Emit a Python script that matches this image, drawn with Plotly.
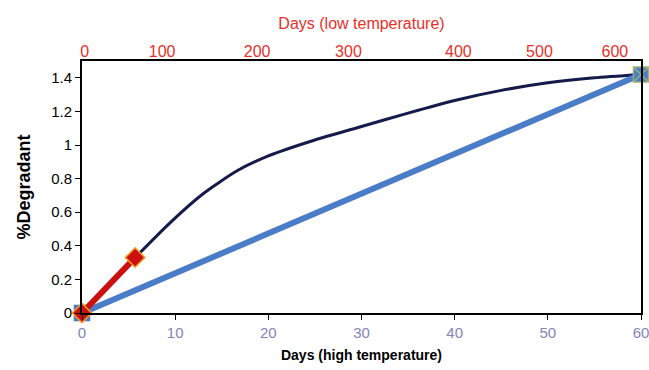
import plotly.graph_objects as go

# Data
curve_x = [5.7, 9.5, 13.0, 16.6, 20.0, 25.0, 30.0, 35.0, 40.0, 45.0, 50.0, 55.0, 60.0]
curve_y = [0.33, 0.54, 0.71, 0.845, 0.935, 1.03, 1.11, 1.19, 1.265, 1.325, 1.37, 1.4, 1.42]

red_x = [0, 5.7]
red_y = [0, 0.33]

blue_x = [0, 60]
blue_y = [0, 1.42]

bottom_ticks = [0, 10, 20, 30, 40, 50, 60]
y_ticks = [0, 0.2, 0.4, 0.6, 0.8, 1.0, 1.2, 1.4]
y_tick_text = ["0", "0.2", "0.4", "0.6", "0.8", "1", "1.2", "1.4"]

top_tick_text = ["0", "100", "200", "300", "400", "500", "600"]
top_tick_pos = [0.3, 8.6, 18.8, 28.6, 40.4, 49.1, 57.2]  # in high-temperature-day units

FONT = "Liberation Sans, Arial, sans-serif"

fig = go.Figure()

fig.add_trace(go.Scatter(
    x=curve_x, y=curve_y, mode="lines",
    line=dict(color="#141a4a", width=3, shape="spline", smoothing=0.6),
    showlegend=False, hoverinfo="skip"))

fig.add_trace(go.Scatter(
    x=blue_x, y=blue_y, mode="lines+markers", cliponaxis=False,
    line=dict(color="#4a7cc8", width=6),
    marker=dict(symbol=["square", "square-x"], size=15, color="#4a7cc8",
                line=dict(color=["#4a7cc8", "#9ab078"], width=1.5)),
    showlegend=False, hoverinfo="skip"))

fig.add_trace(go.Scatter(
    x=red_x, y=red_y, mode="lines+markers", cliponaxis=False,
    line=dict(color="#cc1010", width=6),
    marker=dict(symbol="diamond", size=15, color="#cc1010",
                line=dict(color="#f0a020", width=1.5)),
    showlegend=False, hoverinfo="skip"))

# invisible trace to activate the top axis
fig.add_trace(go.Scatter(x=[0, 60], y=[0, 0], xaxis="x2", mode="markers",
                         marker=dict(opacity=0), showlegend=False, hoverinfo="skip"))

fig.update_layout(
    width=649, height=370,
    margin=dict(l=82, r=8, t=61, b=57),
    paper_bgcolor="white", plot_bgcolor="white",
    font=dict(family=FONT),
    xaxis=dict(
        range=[0, 60], tickvals=bottom_ticks, showgrid=False, zeroline=False,
        showline=True, linecolor="black", linewidth=2, mirror=True,
        ticks="outside", ticklen=5, tickcolor="black", tickwidth=1,
        tickfont=dict(size=15, color="#8484b8"), automargin=False,
        ticklabeloverflow="allow",
        title=dict(text="<b>Days (high temperature)</b>",
                   font=dict(size=14, color="black"), standoff=10),
    ),
    xaxis2=dict(
        range=[0, 60], overlaying="x", side="top", tickvals=top_tick_pos,
        ticktext=top_tick_text, showgrid=False, zeroline=False, showline=False,
        ticks="", tickfont=dict(size=16, color="#e8302a"), automargin=False,
        ticklabeloverflow="allow",
        title=dict(text="Days (low temperature)", font=dict(size=16, color="#e8302a"),
                   standoff=9),
    ),
    yaxis=dict(
        range=[0, 1.5], tickvals=y_ticks, ticktext=y_tick_text, showgrid=False,
        zeroline=False, showline=True, linecolor="black", linewidth=2, mirror=True,
        ticks="outside", ticklen=5, tickcolor="black", tickwidth=1,
        tickfont=dict(size=15, color="black"), automargin=False,
        title=dict(text="<b>%Degradant</b>", font=dict(size=18, color="black"),
                   standoff=16),
    ),
)

fig.write_html("out.html")
